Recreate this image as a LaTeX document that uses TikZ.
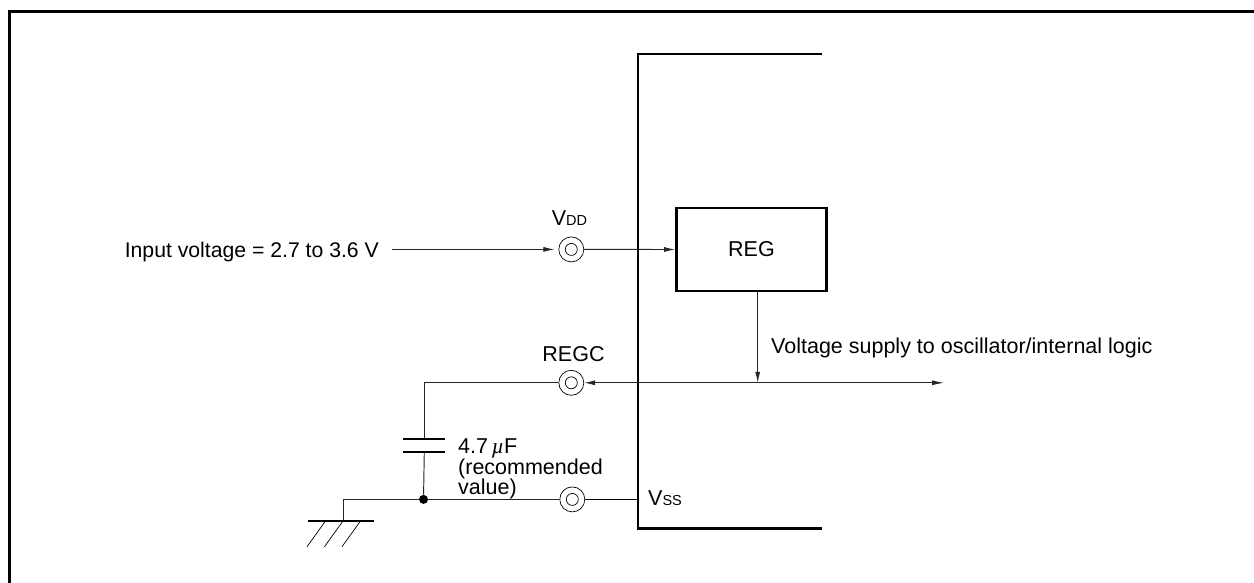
\documentclass[tikz,border=0pt]{standalone}
\usepackage{fontspec}
\setmainfont{Liberation Sans}
\usetikzlibrary{arrows.meta}
\tikzset{
  wire/.style={line width=0.95pt,black!85},
  thick line/.style={line width=2.7pt,line cap=butt},
  arr/.style={-{Latex[length=11pt,width=5pt]}},
  pin/.style={circle,draw,fill=white,line width=0.7pt,minimum size=25pt,inner sep=0pt,
     path picture={\draw[line width=0.7pt] (path picture bounding box.center) circle[radius=6pt];}},
  lab/.style={inner sep=0pt,font=\fontsize{21.5pt}{20.5pt}\selectfont,text=black},
  dotnode/.style={circle,fill=black,inner sep=0pt,minimum size=9pt},
  regbox/.style={draw,line width=2.7pt,minimum width=150pt,minimum height=83pt,inner sep=0pt,fill=white}
}
\newcommand{\subsz}{\fontsize{14.5pt}{16pt}\selectfont}
\begin{document}
\begin{tikzpicture}[x=1pt,y=-1pt]
\useasboundingbox (0,0) rectangle (1254,583);
\fill[white] (0,0) rectangle (1254,583);
\draw[line width=3pt] (9.5,583) -- (9.5,11.8) -- (1254,11.8);
\draw[thick line] (821.5,54) -- (638,54) -- (638,528.5) -- (821.5,528.5);
\node[regbox] (reg) at (751.5,249.5) {};
\node[lab] at (reg.center) {REG};
\node[pin] (vdd) at (571.3,249.4) {};
\node[pin] (regc) at (571.3,382.8) {};
\node[pin] (vss) at (572.3,499.4) {};
\node[lab,anchor=base east,font=\fontsize{21.2pt}{20.5pt}\selectfont] (inp) at (379,257.5) {Input voltage = 2.7 to 3.6 V};
\coordinate (instart) at (392,249.4);
\draw[wire,arr,shorten >=4pt] (instart) -- (vdd.west);
\draw[wire,arr] (vdd.east) -- (reg.west);
\node[lab,anchor=base] (vddl) at (569.5,225.7) {V{\subsz DD}};
\node[lab,anchor=base] (regcl) at (573.5,361) {REGC};
\coordinate (busr) at (944,382.8);
\coordinate (busj) at (757.7,382.8);
\draw[wire,{Latex[length=11pt,width=5pt]}-{Latex[length=12pt,width=5pt]}] (regc.east) -- (busr);
\draw[wire,arr] (reg.south -| busj) -- (busj);
\node[lab,anchor=base west] (sup) at (771,353) {Voltage supply to oscillator/internal logic};
\coordinate (cc) at (424.3,382.8);
\coordinate (ct) at (424.3,438.7);
\coordinate (cb) at (424.3,451.7);
\node[dotnode] (dot) at (423.5,499.4) {};
\draw[wire] (regc.west) -- (cc) -- (ct);
\draw[wire] (cb) -- (dot);
\draw[line width=2.4pt] (403,438.7) -- (445,438.7);
\draw[line width=2.4pt] (403,451.7) -- (445,451.7);
\node[lab,anchor=north west,align=left] (cap) at (458,438.7) {4.7\,{\fontspec{Liberation Serif}\itshape µ}F\\(recommended\\value)};
\coordinate (gc) at (343,499.4);
\coordinate (gg) at (343,521);
\draw[wire] (vss.west) -- (dot) -- (gc) -- (gg);
\draw[line width=2.2pt] (308,521) -- (374,521);
\draw[line width=0.7pt] (325.5,521) -- (307,546.7);
\draw[line width=0.7pt] (343,521) -- (324.5,546.7);
\draw[line width=0.7pt] (360.5,521) -- (342,546.7);
\coordinate (vssin) at (638,499.4);
\draw[line width=1.1pt] (vss.east) -- (vssin);
\node[lab,anchor=base west] (vssl) at (648,505.7) {V{\subsz SS}};
\end{tikzpicture}
\end{document}
